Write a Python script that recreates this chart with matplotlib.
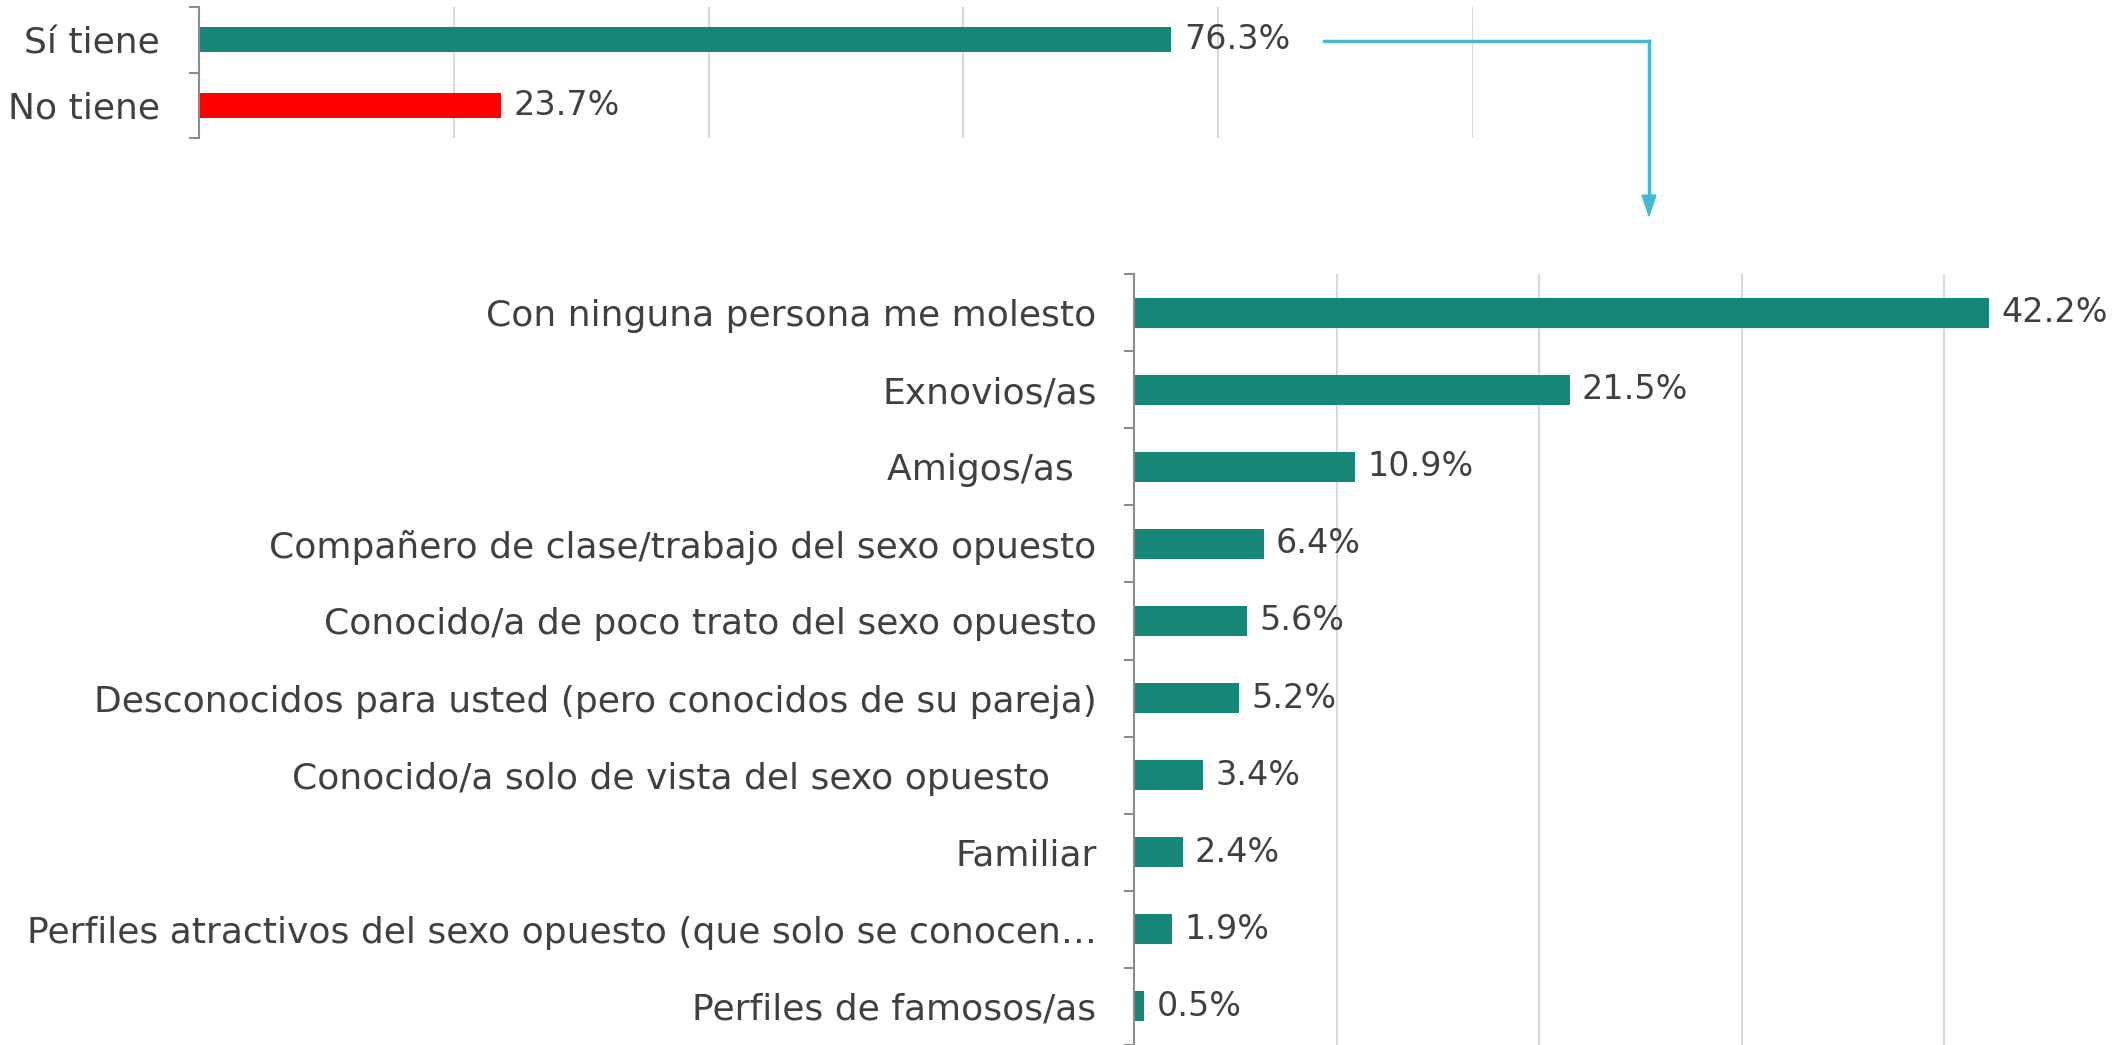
import matplotlib
matplotlib.use("Agg")
import matplotlib.pyplot as plt
from matplotlib.lines import Line2D

# datos
top_cats = ["Sí tiene", "No tiene"]
top_vals = [76.3, 23.7]

cats = [
    "Con ninguna persona me molesto",
    "Exnovios/as",
    "Amigos/as  ",
    "Compañero de clase/trabajo del sexo opuesto",
    "Conocido/a de poco trato del sexo opuesto",
    "Desconocidos para usted (pero conocidos de su pareja)",
    "Conocido/a solo de vista del sexo opuesto    ",
    "Familiar",
    "Perfiles atractivos del sexo opuesto (que solo se conocen…",
    "Perfiles de famosos/as",
]
vals = [42.2, 21.5, 10.9, 6.4, 5.6, 5.2, 3.4, 2.4, 1.9, 0.5]

teal = "#168677"
red = "#FF0000"
arrow_col = "#45B9D2"
txt = "#404040"
grid_col = "#D9D9D9"
spine_col = "#8C8C8C"
fs = 26
fs_val = 24
plt.rcParams["font.family"] = ["DejaVu Sans"]

W, H = 2118, 1045
fig = plt.figure(figsize=(W / 100, H / 100), dpi=100)


def style(ax, xmax, step):
    ax.set_xlim(0, xmax)
    ax.set_xticks(range(step, xmax + 1, step))
    ax.tick_params(axis="x", length=0, labelbottom=False)
    ax.grid(axis="x", color=grid_col, linewidth=1.5)
    ax.set_axisbelow(True)
    for s in ["top", "right", "bottom"]:
        ax.spines[s].set_visible(False)
    ax.spines["left"].set_color(spine_col)
    ax.spines["left"].set_linewidth(1.5)


# grafico superior
ax1 = fig.add_axes([199 / W, 1 - 138 / H, (1473 - 199) / W, 131 / H])
y1 = list(range(len(top_cats)))
ax1.barh(y1, top_vals, height=0.38, color=[teal, red])
ax1.set_ylim(len(top_cats) - 0.5, -0.5)
style(ax1, 100, 20)
ax1.set_yticks(y1)
ax1.set_yticklabels(top_cats, fontsize=fs, color=txt)
ax1.set_yticks([-0.5, 0.5, 1.5], minor=True)
ax1.tick_params(axis="y", which="major", length=0, pad=28)
ax1.tick_params(axis="y", which="minor", length=7, width=1.5, color=spine_col)
for yy, v in zip(y1, top_vals):
    ax1.text(v + 1.0, yy, f"{v:.1f}%", va="center", ha="left", fontsize=fs_val, color=txt)

# grafico inferior
ax2 = fig.add_axes([1134 / W, 0, 45 * 20.26 / W, (H - 274) / H])
y2 = list(range(len(cats)))
ax2.barh(y2, vals, height=0.39, color=teal)
ax2.set_ylim(len(cats) - 0.5, -0.5)
style(ax2, 45, 10)
ax2.set_yticks(y2)
ax2.set_yticklabels(cats, fontsize=fs, color=txt)
ax2.set_yticks([i - 0.5 for i in range(len(cats) + 1)], minor=True)
ax2.tick_params(axis="y", which="major", length=0, pad=27)
ax2.tick_params(axis="y", which="minor", length=7, width=1.5, color=spine_col)
for yy, v in zip(y2, vals):
    ax2.text(v + 0.6, yy, f"{v:.1f}%", va="center", ha="left", fontsize=fs_val, color=txt)

# flecha
x0, xc, ya, yb = 1324 / W, 1649 / W, 1 - 41 / H, 1 - 216 / H
fig.add_artist(Line2D([x0, xc], [ya, ya], transform=fig.transFigure, color=arrow_col, linewidth=2.5))
fig.add_artist(Line2D([xc, xc], [ya, yb + 0.02], transform=fig.transFigure, color=arrow_col, linewidth=2.5))
fig.add_artist(plt.Polygon([[xc - 7 / W, yb + 0.02], [xc + 7 / W, yb + 0.02], [xc, yb]],
                           closed=True, transform=fig.transFigure, color=arrow_col))

fig.savefig("out.png", dpi=100)
